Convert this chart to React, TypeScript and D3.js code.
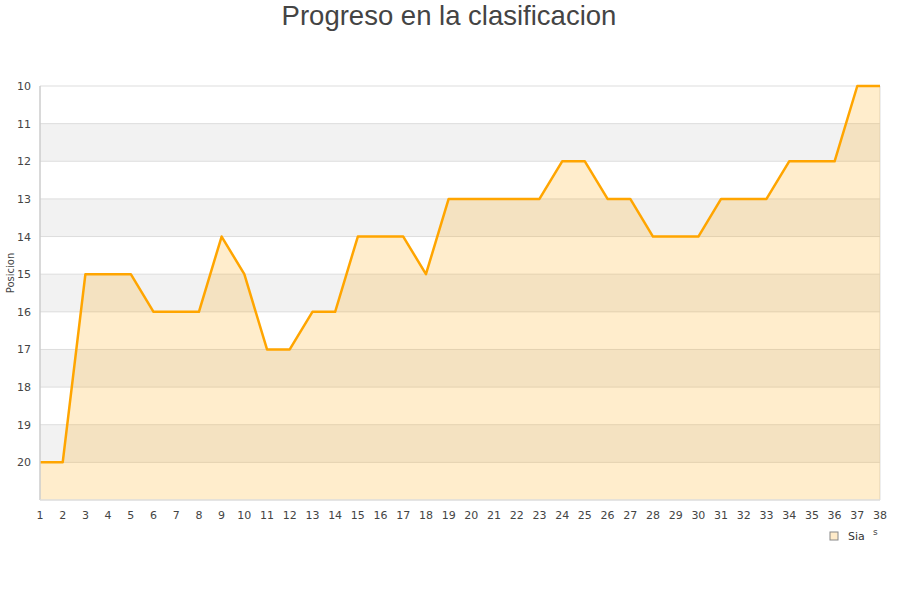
import React from "react";
import * as d3 from "d3";

const rounds = d3.range(1, 39);
const positions = [20, 20, 15, 15, 15, 16, 16, 16, 14, 15, 17, 17, 16, 16, 14, 14, 14, 15, 13, 13, 13, 13, 13, 12, 12, 13, 13, 14, 14, 14, 13, 13, 13, 12, 12, 12, 10, 10];
const yTicks = [10, 11, 12, 13, 14, 15, 16, 17, 18, 19, 20];
const seriesName = "Sia";

const width = 900;
const height = 600;
const margin = { top: 86, right: 20, bottom: 100, left: 40 };
const innerW = width - margin.left - margin.right;
const innerH = height - margin.top - margin.bottom;

export default function App() {
    const x = d3.scaleLinear().domain([1, 38]).range([0, innerW]);
    const y = d3.scaleLinear().domain([10, 21]).range([0, innerH]);

    const pts = rounds.map((r, i) => ({ r, p: positions[i] }));
    const area = d3.area<{ r: number; p: number }>()
        .x(d => x(d.r))
        .y0(innerH)
        .y1(d => y(d.p));
    const line = d3.line<{ r: number; p: number }>()
        .x(d => x(d.r))
        .y(d => y(d.p));

    // alternate shaded bands
    const bands = d3.range(10, 21).filter(v => v % 2 === 1);

    return (
        <svg width={width} height={height} style={{ position: "absolute", left: 0, top: 0, background: "#fff" }}>
            <text x={449} y={25} textAnchor="middle" fontFamily="Liberation Sans, Arial, sans-serif" fontSize={27.5} fill="#444">
                Progreso en la clasificacion
            </text>
            <g transform={`translate(${margin.left},${margin.top})`}>
                {bands.map(b => (
                    <rect key={b} x={0} y={y(b)} width={innerW} height={y(b + 1) - y(b)} fill="#f2f2f2" />
                ))}
                {yTicks.map(t => (
                    <line key={t} x1={0} x2={innerW} y1={y(t)} y2={y(t)} stroke="#dddddd" strokeWidth={1} />
                ))}
                <line x1={innerW} x2={innerW} y1={0} y2={innerH} stroke="#dddddd" />
                <path d={area(pts) || ""} fill="#ffa500" fillOpacity={0.2} />
                <path d={line(pts) || ""} fill="none" stroke="#ffa500" strokeWidth={2.5} strokeLinejoin="round" />
                <line x1={0} x2={0} y1={0} y2={innerH} stroke="#cccccc" strokeWidth={1.5} />
                <line x1={0} x2={innerW} y1={innerH} y2={innerH} stroke="#dddddd" strokeWidth={1.5} />
                {yTicks.map(t => (
                    <text key={t} x={-9} y={y(t) + 4} textAnchor="end" fontFamily="DejaVu Sans, sans-serif" fontSize={11} fill="#444">
                        {t}
                    </text>
                ))}
                {rounds.map(r => (
                    <text key={r} x={x(r)} y={innerH + 19} textAnchor="middle" fontFamily="DejaVu Sans, sans-serif" fontSize={11} fill="#444">
                        {r}
                    </text>
                ))}
                <text transform={`translate(${-26},${innerH / 2 - 20}) rotate(-90)`} textAnchor="middle" fontFamily="DejaVu Sans, sans-serif" fontSize={10} fill="#444">
                    Posicion
                </text>
            </g>
            <g transform="translate(830,532)">
                <rect x={0} y={0} width={8} height={8} fill="#ffebc9" stroke="#888" strokeWidth={1} />
                <text x={18} y={8} fontFamily="DejaVu Sans, sans-serif" fontSize={11} fill="#333">{seriesName}</text>
            </g>
            <text x={873} y={535} fontFamily="DejaVu Sans, sans-serif" fontSize={9} fill="#444">s</text>
        </svg>
    );
}
